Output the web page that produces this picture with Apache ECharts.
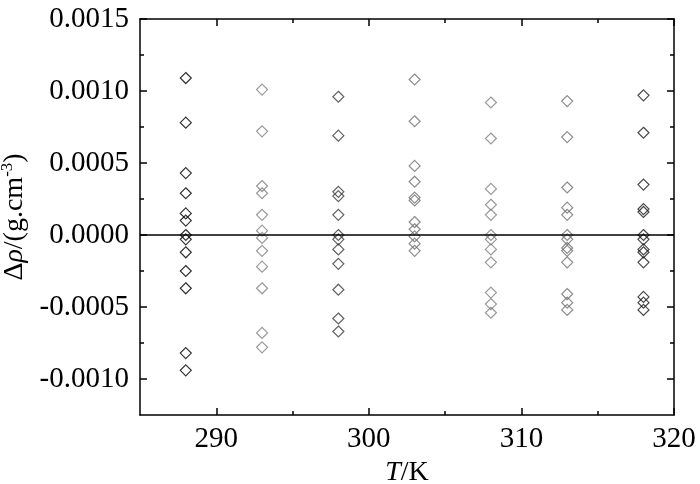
<!DOCTYPE html>
<html>
<head>
<meta charset="utf-8">
<script src="https://cdn.jsdelivr.net/npm/echarts@6/dist/echarts.min.js"></script>
<style>
  html, body { margin: 0; padding: 0; background: #fff; }
  #chart { width: 700px; height: 484px; }
</style>
</head>
<body>
<div id="chart"></div>
<script>
  // 温度 T/K
  var temps = [288, 293, 298, 303, 308, 313, 318];
  // Δρ 各温度下的偏差
  var d288 = [0.00109, 0.00078, 0.00043, 0.00029, 0.00015, 0.00010, 0.00000, -0.00003, -0.00012, -0.00025, -0.00037, -0.00082, -0.00094];
  var d293 = [0.00101, 0.00072, 0.00034, 0.00029, 0.00014, 0.00003, -0.00002, -0.00011, -0.00022, -0.00037, -0.00068, -0.00078];
  var d298 = [0.00096, 0.00069, 0.00030, 0.00027, 0.00014, 0.00000, -0.00003, -0.00010, -0.00020, -0.00038, -0.00058, -0.00067];
  var d303 = [0.00108, 0.00079, 0.00048, 0.00037, 0.00026, 0.00024, 0.00009, 0.00004, -0.00001, -0.00006, -0.00011];
  var d308 = [0.00092, 0.00067, 0.00032, 0.00021, 0.00014, 0.00000, -0.00003, -0.00010, -0.00019, -0.00040, -0.00048, -0.00054];
  var d313 = [0.00093, 0.00068, 0.00033, 0.00019, 0.00014, 0.00000, -0.00003, -0.00009, -0.00011, -0.00019, -0.00041, -0.00047, -0.00052];
  var d318 = [0.00097, 0.00071, 0.00035, 0.00018, 0.00016, 0.00000, -0.00003, -0.00010, -0.00012, -0.00019, -0.00043, -0.00047, -0.00052];
  var groups = [d288, d293, d298, d303, d308, d313, d318];
  var colors = ['#000', '#808080', '#3a3a3a', '#707070', '#808080', '#707070', '#1a1a1a'];

  // 刻度
  var xTicks = [290, 300, 310, 320];
  var xMinor = [295, 305, 315];
  var yTicks = [-0.0010, -0.0005, 0, 0.0005, 0.0010, 0.0015];
  var yMinor = [-0.00075, -0.00025, 0.00025, 0.00075, 0.00125];

  var font = 'Liberation Serif';

  // 坐标轴 (主刻度/次刻度, 四边)
  function makeAxis(min, max, pos, ticks, len, withLabel, withLine) {
    return {
      type: 'value', min: min, max: max, position: pos,
      axisLine: { show: withLine, onZero: false, lineStyle: { color: '#000', width: 1.5 } },
      axisTick: { show: true, inside: true, length: len, customValues: ticks, lineStyle: { color: '#000', width: 1.5 } },
      axisLabel: withLabel ? {
        show: true, customValues: ticks, color: '#000', fontFamily: font, fontSize: 29
      } : { show: false },
      splitLine: { show: false }
    };
  }

  var xMain = makeAxis(285, 320, 'bottom', xTicks, 7, true, true);
  xMain.axisLabel.margin = 10;
  xMain.name = '{i|T}{a|/K}';
  xMain.nameLocation = 'middle';
  xMain.nameGap = 43;
  xMain.nameTextStyle = {
    rich: {
      i: { fontFamily: font, fontSize: 28, fontStyle: 'italic', color: '#000' },
      a: { fontFamily: font, fontSize: 28, color: '#000' }
    }
  };

  var yMain = makeAxis(-0.00125, 0.0015, 'left', yTicks, 7, true, true);
  yMain.axisLabel.margin = 11;
  yMain.axisLabel.formatter = function (v) { return v.toFixed(4); };
  yMain.name = '{a|Δ}{i|ρ}{a|/(g.cm}{s|-3}{a|)}';
  yMain.nameLocation = 'middle';
  yMain.nameGap = 102;
  yMain.nameRotate = 90;
  yMain.nameTextStyle = {
    rich: {
      a: { fontFamily: font, fontSize: 28, color: '#000', lineHeight: 30, verticalAlign: 'bottom' },
      i: { fontFamily: font, fontSize: 28, fontStyle: 'italic', color: '#000', lineHeight: 30, verticalAlign: 'bottom' },
      s: { fontFamily: font, fontSize: 17, color: '#000', lineHeight: 30, verticalAlign: 'top' }
    }
  };

  var series = temps.map(function (t, k) {
    return {
      type: 'scatter',
      xAxisIndex: 0,
      yAxisIndex: 0,
      symbol: 'diamond',
      symbolSize: 11,
      itemStyle: { color: 'transparent', borderColor: colors[k], borderWidth: 1.2 },
      silent: true,
      data: groups[k].map(function (v) { return [t, v]; })
    };
  });
  // 零线
  series[0].markLine = {
    silent: true,
    symbol: 'none',
    label: { show: false },
    lineStyle: { color: '#000', width: 1.5, type: 'solid' },
    data: [{ yAxis: 0 }]
  };

  var chart = echarts.init(document.getElementById('chart'));
  chart.setOption({
    animation: false,
    backgroundColor: '#fff',
    grid: { left: 140, right: 26, top: 19, bottom: 69, containLabel: false, outerBoundsMode: 'none' },
    xAxis: [
      xMain,
      makeAxis(285, 320, 'bottom', xMinor, 4, false, false),
      makeAxis(285, 320, 'top', xTicks, 7, false, true),
      makeAxis(285, 320, 'top', xMinor, 4, false, false)
    ],
    yAxis: [
      yMain,
      makeAxis(-0.00125, 0.0015, 'left', yMinor, 4, false, false),
      makeAxis(-0.00125, 0.0015, 'right', yTicks, 7, false, true),
      makeAxis(-0.00125, 0.0015, 'right', yMinor, 4, false, false)
    ],
    series: series
  });
</script>
</body>
</html>
